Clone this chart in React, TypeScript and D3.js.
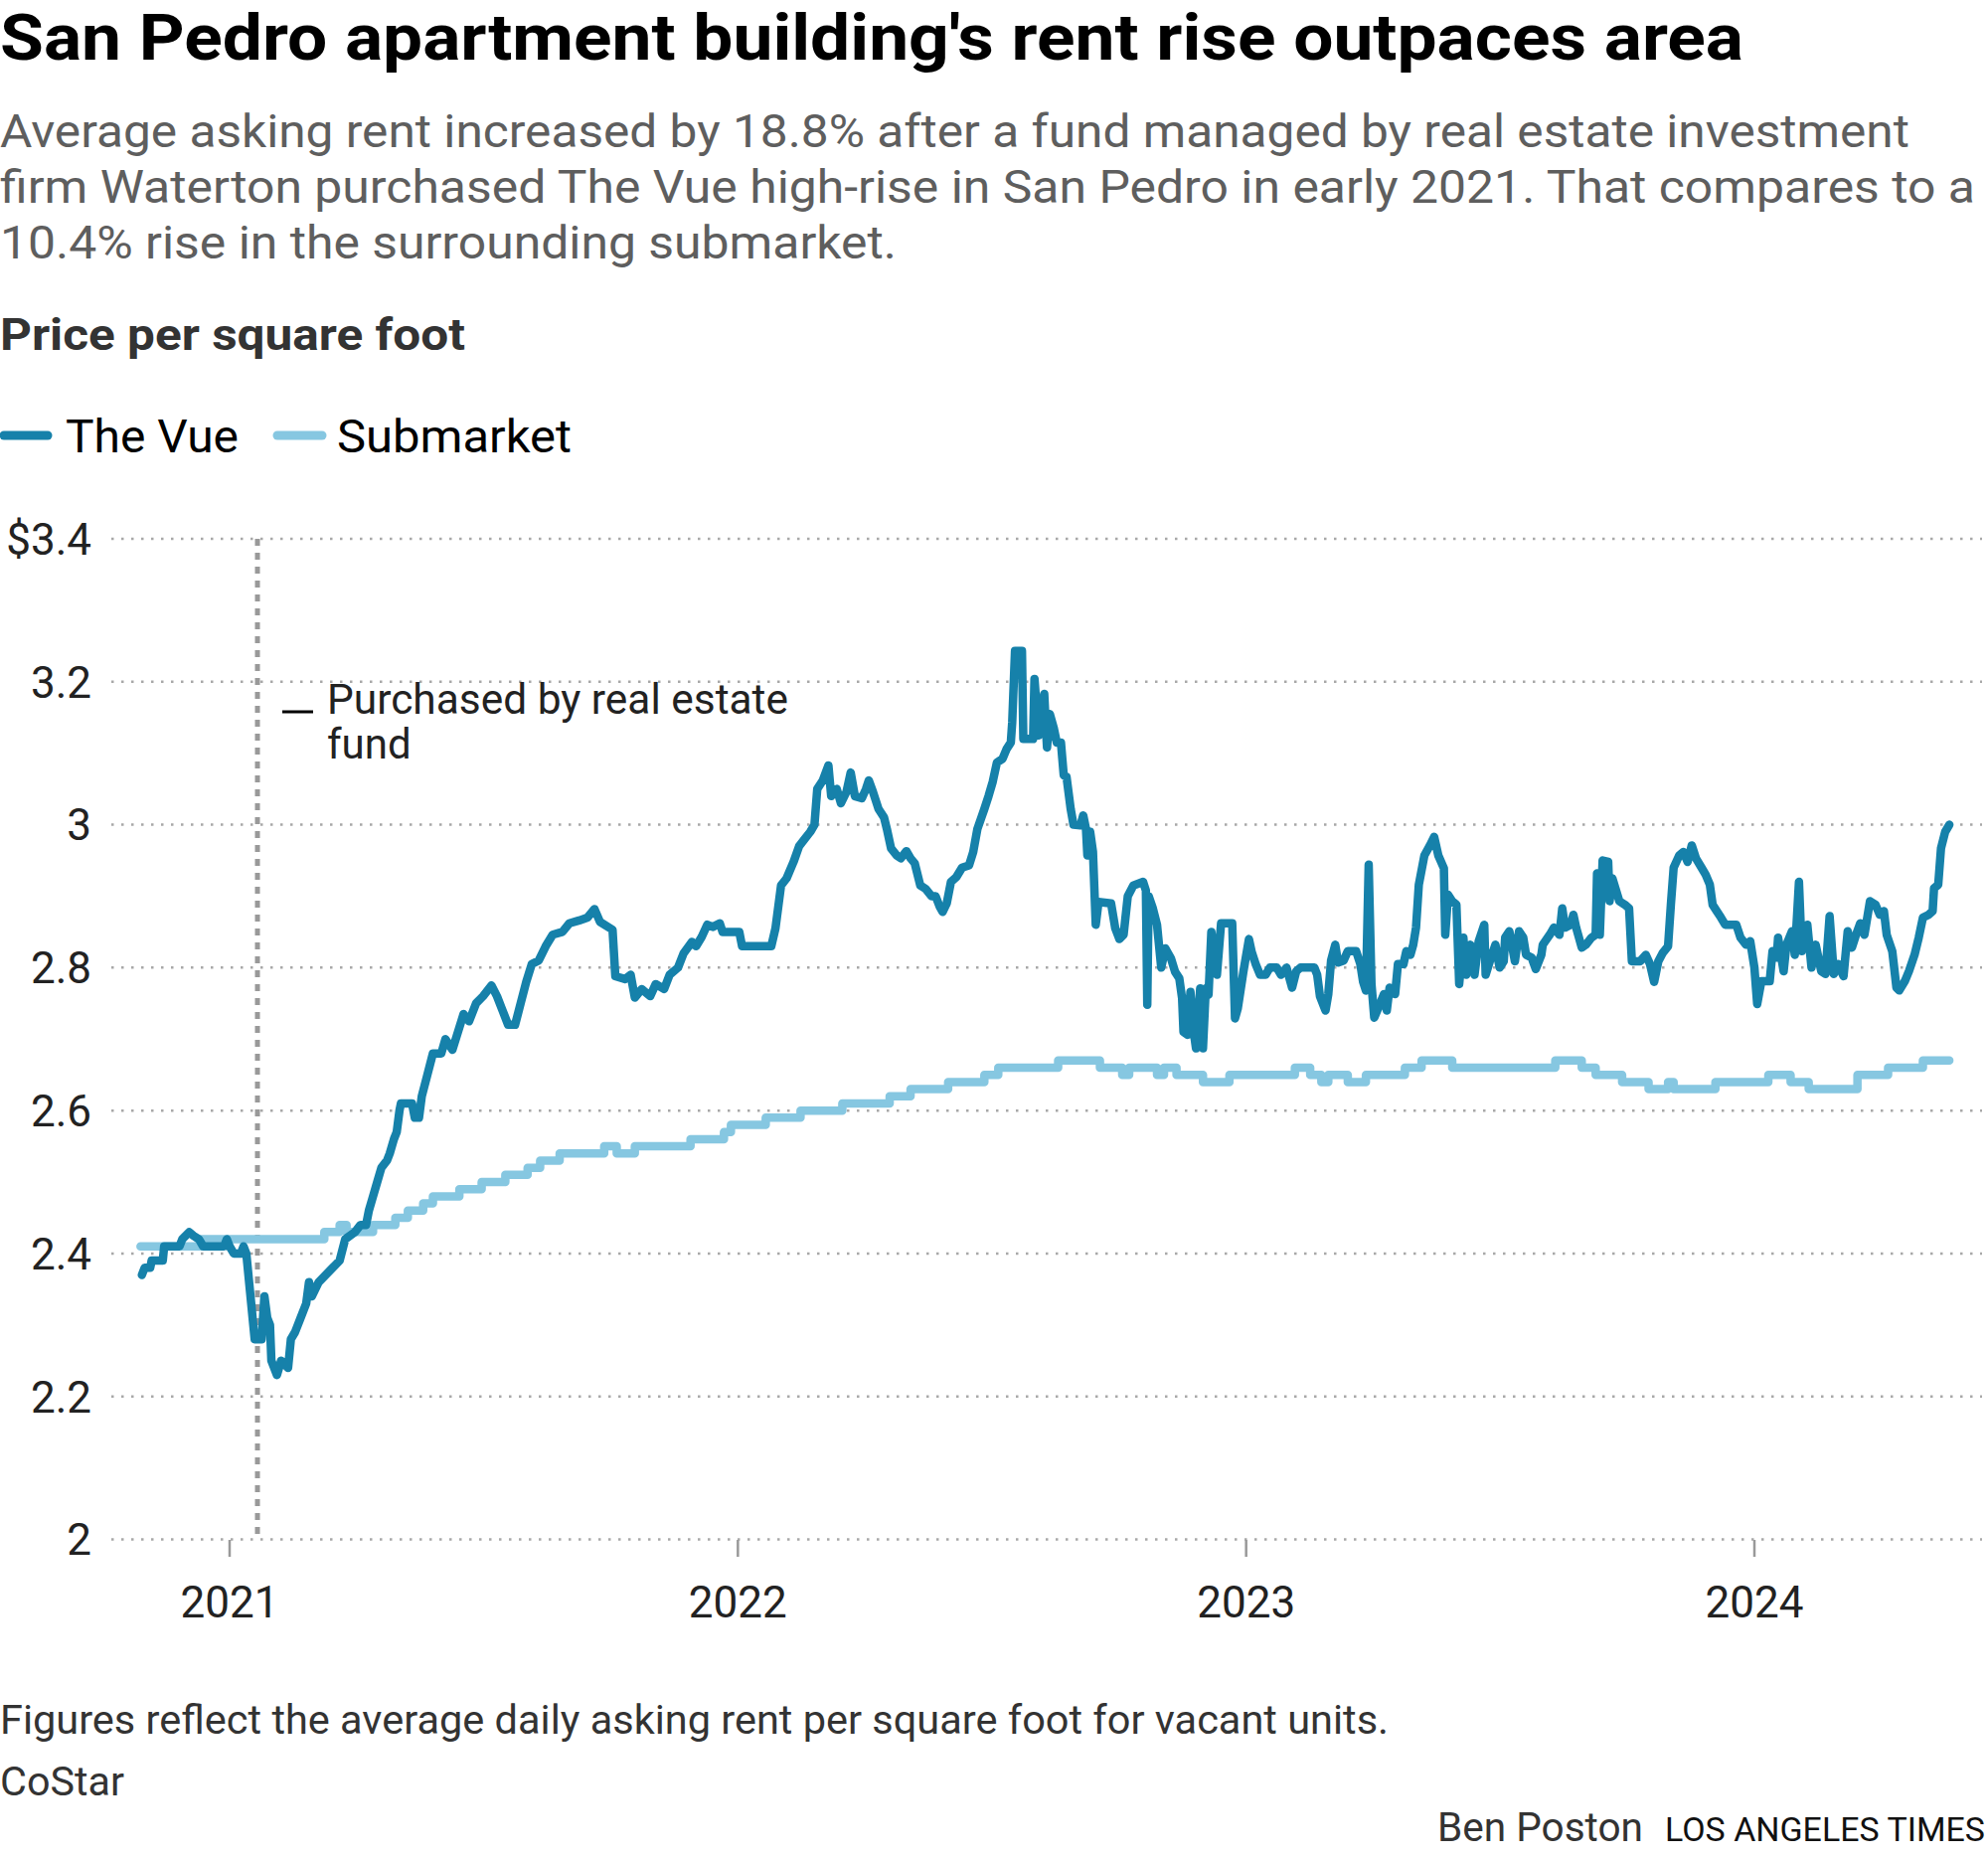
import React from "react";
import * as d3 from "d3";

// ---------- Text ----------
const titleText = "San Pedro apartment building's rent rise outpaces area";
const subtitleLines = [
  "Average asking rent increased by 18.8% after a fund managed by real estate investment",
  "firm Waterton purchased The Vue high-rise in San Pedro in early 2021. That compares to a",
  "10.4% rise in the surrounding submarket.",
];
const yAxisTitle = "Price per square foot";
const seriesNames = ["The Vue", "Submarket"];
const annotationLines = ["Purchased by real estate", "fund"];
const noteText = "Figures reflect the average daily asking rent per square foot for vacant units.";
const sourceText = "CoStar";
const creditText = "Ben Poston";
const brandText = "LOS ANGELES TIMES";

// ---------- Axes ----------
const yTicks = [2, 2.2, 2.4, 2.6, 2.8, 3, 3.2, 3.4];
const yTickLabels = ["2", "2.2", "2.4", "2.6", "2.8", "3", "3.2", "$3.4"];
const xTickYears = [2021, 2022, 2023, 2024];
const purchaseDate = "2021-01-21";

// ---------- The Vue (date, $/sq ft) ----------
const vue2020: [string, number][] = [
  ["2020-10-30", 2.37], ["2020-11-01", 2.38], ["2020-11-05", 2.38], ["2020-11-06", 2.39], ["2020-11-14", 2.39],
  ["2020-11-15", 2.41], ["2020-11-26", 2.41], ["2020-11-28", 2.42], ["2020-12-03", 2.43], ["2020-12-06", 2.425],
  ["2020-12-10", 2.42], ["2020-12-13", 2.41], ["2020-12-28", 2.41], ["2020-12-30", 2.42],
];
const vue2021: [string, number][] = [
  ["2021-01-01", 2.41], ["2021-01-04", 2.40], ["2021-01-09", 2.40], ["2021-01-11", 2.41], ["2021-01-13", 2.40],
  ["2021-01-19", 2.28], ["2021-01-24", 2.28], ["2021-01-26", 2.34], ["2021-01-28", 2.31], ["2021-01-30", 2.30],
  ["2021-01-31", 2.25], ["2021-02-04", 2.23], ["2021-02-07", 2.25], ["2021-02-12", 2.24], ["2021-02-14", 2.28],
  ["2021-02-17", 2.29], ["2021-02-21", 2.31], ["2021-02-25", 2.33], ["2021-02-27", 2.36], ["2021-03-01", 2.34],
  ["2021-03-06", 2.36], ["2021-03-11", 2.37], ["2021-03-16", 2.38], ["2021-03-21", 2.39], ["2021-03-25", 2.42],
  ["2021-04-01", 2.43], ["2021-04-05", 2.44], ["2021-04-09", 2.44], ["2021-04-11", 2.46], ["2021-04-14", 2.48],
  ["2021-04-17", 2.50], ["2021-04-20", 2.52], ["2021-04-24", 2.53], ["2021-04-26", 2.54], ["2021-04-29", 2.56],
  ["2021-05-01", 2.57], ["2021-05-03", 2.60], ["2021-05-04", 2.61], ["2021-05-12", 2.61], ["2021-05-14", 2.59],
  ["2021-05-17", 2.59], ["2021-05-19", 2.62], ["2021-05-23", 2.65], ["2021-05-27", 2.68], ["2021-06-02", 2.68],
  ["2021-06-05", 2.70], ["2021-06-10", 2.685], ["2021-06-14", 2.71], ["2021-06-18", 2.735], ["2021-06-22", 2.725],
  ["2021-06-27", 2.75], ["2021-07-02", 2.76], ["2021-07-08", 2.775], ["2021-07-12", 2.76], ["2021-07-16", 2.74],
  ["2021-07-20", 2.72], ["2021-07-25", 2.72], ["2021-07-29", 2.75], ["2021-08-02", 2.78], ["2021-08-06", 2.805],
  ["2021-08-11", 2.81], ["2021-08-16", 2.83], ["2021-08-21", 2.846], ["2021-08-28", 2.85], ["2021-09-02", 2.862],
  ["2021-09-09", 2.866], ["2021-09-15", 2.87], ["2021-09-20", 2.882], ["2021-09-24", 2.864], ["2021-10-03", 2.853],
  ["2021-10-05", 2.788], ["2021-10-12", 2.784], ["2021-10-16", 2.79], ["2021-10-19", 2.758], ["2021-10-24", 2.77],
  ["2021-10-30", 2.76], ["2021-11-03", 2.777], ["2021-11-09", 2.77], ["2021-11-13", 2.79], ["2021-11-19", 2.80],
  ["2021-11-23", 2.82], ["2021-11-29", 2.836], ["2021-12-02", 2.83], ["2021-12-06", 2.843], ["2021-12-10", 2.86],
  ["2021-12-14", 2.857], ["2021-12-19", 2.862], ["2021-12-21", 2.85],
];
const vue2022: [string, number][] = [
  ["2022-01-02", 2.85], ["2022-01-04", 2.83], ["2022-01-25", 2.83], ["2022-01-28", 2.855], ["2022-02-01", 2.915],
  ["2022-02-05", 2.925], ["2022-02-10", 2.948], ["2022-02-14", 2.97], ["2022-02-18", 2.98], ["2022-02-22", 2.99],
  ["2022-02-25", 3.0], ["2022-02-27", 3.05], ["2022-03-03", 3.062], ["2022-03-07", 3.083], ["2022-03-09", 3.04],
  ["2022-03-13", 3.05], ["2022-03-16", 3.03], ["2022-03-20", 3.046], ["2022-03-23", 3.073], ["2022-03-26", 3.04],
  ["2022-03-31", 3.037], ["2022-04-03", 3.05], ["2022-04-05", 3.062], ["2022-04-08", 3.046], ["2022-04-12", 3.022],
  ["2022-04-16", 3.01], ["2022-04-18", 2.994], ["2022-04-21", 2.967], ["2022-04-25", 2.957], ["2022-04-28", 2.953],
  ["2022-05-02", 2.963], ["2022-05-05", 2.953], ["2022-05-08", 2.946], ["2022-05-12", 2.915], ["2022-05-16", 2.91],
  ["2022-05-20", 2.9], ["2022-05-23", 2.9], ["2022-05-26", 2.885], ["2022-05-28", 2.878], ["2022-05-31", 2.89],
  ["2022-06-03", 2.92], ["2022-06-07", 2.927], ["2022-06-11", 2.94], ["2022-06-16", 2.943], ["2022-06-19", 2.962],
  ["2022-06-22", 2.994], ["2022-06-27", 3.022], ["2022-06-30", 3.04], ["2022-07-03", 3.06], ["2022-07-06", 3.087],
  ["2022-07-10", 3.092], ["2022-07-13", 3.106], ["2022-07-16", 3.115], ["2022-07-17", 3.143], ["2022-07-19", 3.243],
  ["2022-07-24", 3.243], ["2022-07-25", 3.12], ["2022-08-01", 3.12], ["2022-08-02", 3.204], ["2022-08-05", 3.125],
  ["2022-08-09", 3.183], ["2022-08-10", 3.143], ["2022-08-11", 3.108], ["2022-08-13", 3.155], ["2022-08-16", 3.134],
  ["2022-08-18", 3.115], ["2022-08-21", 3.115], ["2022-08-23", 3.069], ["2022-08-25", 3.067], ["2022-08-28", 3.022],
  ["2022-08-30", 3.0], ["2022-09-04", 2.999], ["2022-09-06", 3.013], ["2022-09-08", 2.994], ["2022-09-09", 2.957],
  ["2022-09-11", 2.99], ["2022-09-13", 2.962], ["2022-09-15", 2.86], ["2022-09-17", 2.892], ["2022-09-26", 2.89],
  ["2022-09-29", 2.855], ["2022-10-02", 2.84], ["2022-10-05", 2.846], ["2022-10-08", 2.9], ["2022-10-12", 2.915],
  ["2022-10-19", 2.92], ["2022-10-21", 2.908], ["2022-10-22", 2.748], ["2022-10-23", 2.9], ["2022-10-26", 2.883],
  ["2022-10-29", 2.86], ["2022-11-01", 2.8], ["2022-11-04", 2.827], ["2022-11-08", 2.813], ["2022-11-11", 2.794],
  ["2022-11-14", 2.785], ["2022-11-16", 2.757], ["2022-11-17", 2.71], ["2022-11-20", 2.706], ["2022-11-22", 2.766],
  ["2022-11-24", 2.715], ["2022-11-26", 2.687], ["2022-11-29", 2.771], ["2022-12-01", 2.687], ["2022-12-03", 2.771],
  ["2022-12-05", 2.762], ["2022-12-07", 2.85], ["2022-12-10", 2.808], ["2022-12-11", 2.79], ["2022-12-14", 2.862],
  ["2022-12-22", 2.862], ["2022-12-24", 2.729], ["2022-12-26", 2.743], ["2022-12-30", 2.794],
];
const vue2023: [string, number][] = [
  ["2023-01-03", 2.84], ["2023-01-05", 2.822], ["2023-01-08", 2.804], ["2023-01-11", 2.79], ["2023-01-15", 2.79],
  ["2023-01-18", 2.8], ["2023-01-23", 2.8], ["2023-01-26", 2.79], ["2023-01-30", 2.8], ["2023-02-03", 2.772],
  ["2023-02-06", 2.795], ["2023-02-09", 2.80], ["2023-02-19", 2.80], ["2023-02-21", 2.79], ["2023-02-23", 2.76],
  ["2023-02-27", 2.74], ["2023-03-01", 2.763], ["2023-03-03", 2.81], ["2023-03-06", 2.832], ["2023-03-08", 2.807],
  ["2023-03-12", 2.81], ["2023-03-15", 2.823], ["2023-03-21", 2.823], ["2023-03-24", 2.805], ["2023-03-26", 2.78],
  ["2023-03-28", 2.768], ["2023-03-30", 2.944], ["2023-04-01", 2.777], ["2023-04-03", 2.73], ["2023-04-06", 2.744],
  ["2023-04-10", 2.763], ["2023-04-12", 2.74], ["2023-04-14", 2.772], ["2023-04-18", 2.763], ["2023-04-20", 2.805],
  ["2023-04-24", 2.805], ["2023-04-26", 2.823], ["2023-04-29", 2.818], ["2023-05-01", 2.832], ["2023-05-03", 2.856],
  ["2023-05-05", 2.916], ["2023-05-09", 2.957], ["2023-05-13", 2.971], ["2023-05-16", 2.983], ["2023-05-19", 2.957],
  ["2023-05-23", 2.939], ["2023-05-24", 2.846], ["2023-05-26", 2.902], ["2023-05-29", 2.893], ["2023-06-01", 2.888],
  ["2023-06-03", 2.777], ["2023-06-06", 2.842], ["2023-06-08", 2.79], ["2023-06-11", 2.832], ["2023-06-14", 2.79],
  ["2023-06-17", 2.837], ["2023-06-21", 2.86], ["2023-06-22", 2.79], ["2023-06-25", 2.809], ["2023-06-29", 2.832],
  ["2023-07-02", 2.80], ["2023-07-05", 2.809], ["2023-07-06", 2.842], ["2023-07-09", 2.851], ["2023-07-13", 2.809],
  ["2023-07-16", 2.851], ["2023-07-19", 2.842], ["2023-07-21", 2.818], ["2023-07-25", 2.814], ["2023-07-28", 2.798],
  ["2023-08-01", 2.818], ["2023-08-02", 2.832], ["2023-08-07", 2.846], ["2023-08-10", 2.856], ["2023-08-14", 2.846],
  ["2023-08-16", 2.883], ["2023-08-18", 2.856], ["2023-08-22", 2.86], ["2023-08-24", 2.874], ["2023-08-26", 2.856],
  ["2023-08-30", 2.828], ["2023-09-02", 2.832], ["2023-09-06", 2.842], ["2023-09-09", 2.846], ["2023-09-10", 2.932],
  ["2023-09-12", 2.846], ["2023-09-14", 2.95], ["2023-09-18", 2.948], ["2023-09-19", 2.893], ["2023-09-21", 2.925],
  ["2023-09-26", 2.893], ["2023-09-30", 2.888], ["2023-10-03", 2.883], ["2023-10-05", 2.809], ["2023-10-11", 2.809],
  ["2023-10-15", 2.818], ["2023-10-18", 2.805], ["2023-10-21", 2.78], ["2023-10-24", 2.809], ["2023-10-27", 2.82],
  ["2023-10-31", 2.83], ["2023-11-02", 2.888], ["2023-11-04", 2.94], ["2023-11-08", 2.957], ["2023-11-11", 2.962],
  ["2023-11-14", 2.948], ["2023-11-17", 2.971], ["2023-11-20", 2.953], ["2023-11-24", 2.94], ["2023-11-27", 2.93],
  ["2023-11-30", 2.916], ["2023-12-02", 2.888], ["2023-12-05", 2.879], ["2023-12-08", 2.87], ["2023-12-11", 2.86],
  ["2023-12-19", 2.86], ["2023-12-22", 2.842], ["2023-12-26", 2.832], ["2023-12-29", 2.837],
];
const vue2024: [string, number][] = [
  ["2024-01-01", 2.80], ["2024-01-03", 2.749], ["2024-01-06", 2.781], ["2024-01-12", 2.781], ["2024-01-14", 2.823],
  ["2024-01-17", 2.814], ["2024-01-18", 2.842], ["2024-01-22", 2.795], ["2024-01-24", 2.832], ["2024-01-28", 2.851],
  ["2024-01-30", 2.818], ["2024-02-02", 2.92], ["2024-02-04", 2.823], ["2024-02-08", 2.86], ["2024-02-11", 2.80],
  ["2024-02-14", 2.832], ["2024-02-18", 2.795], ["2024-02-21", 2.791], ["2024-02-24", 2.872], ["2024-02-27", 2.791],
  ["2024-03-01", 2.805], ["2024-03-05", 2.788], ["2024-03-08", 2.851], ["2024-03-11", 2.828], ["2024-03-14", 2.846],
  ["2024-03-17", 2.862], ["2024-03-20", 2.846], ["2024-03-24", 2.893], ["2024-03-28", 2.888], ["2024-03-31", 2.874],
  ["2024-04-03", 2.879], ["2024-04-05", 2.846], ["2024-04-09", 2.823], ["2024-04-12", 2.772], ["2024-04-14", 2.768],
  ["2024-04-18", 2.781], ["2024-04-21", 2.795], ["2024-04-25", 2.818], ["2024-04-28", 2.842], ["2024-05-01", 2.87],
  ["2024-05-05", 2.874], ["2024-05-08", 2.879], ["2024-05-09", 2.911], ["2024-05-12", 2.916], ["2024-05-14", 2.967],
  ["2024-05-17", 2.99], ["2024-05-20", 3.0],
];

// ---------- Submarket (step changes: date, $/sq ft) ----------
const submarket2021: [string, number][] = [
  ["2020-10-29", 2.41], ["2020-12-12", 2.42], ["2021-03-10", 2.43], ["2021-03-21", 2.44], ["2021-03-26", 2.43],
  ["2021-04-14", 2.44], ["2021-04-30", 2.45], ["2021-05-09", 2.46], ["2021-05-20", 2.47], ["2021-05-27", 2.48],
  ["2021-06-15", 2.49], ["2021-07-01", 2.50], ["2021-07-18", 2.51], ["2021-08-03", 2.52], ["2021-08-12", 2.53],
  ["2021-08-26", 2.54], ["2021-09-27", 2.55], ["2021-10-06", 2.54], ["2021-10-19", 2.55], ["2021-11-28", 2.56],
  ["2021-12-22", 2.57], ["2021-12-27", 2.58],
];
const submarket2022: [string, number][] = [
  ["2022-01-21", 2.59], ["2022-02-15", 2.60], ["2022-03-17", 2.61], ["2022-04-20", 2.62], ["2022-05-05", 2.63],
  ["2022-06-01", 2.64], ["2022-06-27", 2.65], ["2022-07-07", 2.66], ["2022-08-19", 2.67], ["2022-09-18", 2.66],
  ["2022-10-04", 2.65], ["2022-10-09", 2.66], ["2022-10-29", 2.65], ["2022-11-03", 2.66], ["2022-11-12", 2.65],
  ["2022-12-01", 2.64], ["2022-12-20", 2.65],
];
const submarket2023: [string, number][] = [
  ["2023-02-05", 2.66], ["2023-02-16", 2.65], ["2023-02-24", 2.64], ["2023-03-01", 2.65], ["2023-03-15", 2.64],
  ["2023-03-28", 2.65], ["2023-04-25", 2.66], ["2023-05-07", 2.67], ["2023-05-29", 2.66], ["2023-08-11", 2.67],
  ["2023-08-30", 2.66], ["2023-09-09", 2.65], ["2023-09-28", 2.64], ["2023-10-17", 2.63], ["2023-10-31", 2.64],
  ["2023-11-04", 2.63], ["2023-12-04", 2.64],
];
const submarket2024: [string, number][] = [
  ["2024-01-11", 2.65], ["2024-01-27", 2.64], ["2024-02-09", 2.63], ["2024-03-15", 2.65], ["2024-04-06", 2.66],
  ["2024-05-01", 2.67], ["2024-05-20", 2.67],
];

const parse = d3.timeParse("%Y-%m-%d");
type Pt = { date: Date; value: number };
const toPts = (rows: [string, number][][]): Pt[] =>
  rows.flat().map(([d, v]) => ({ date: parse(d) as Date, value: v }));

const vueData = toPts([vue2020, vue2021, vue2022, vue2023, vue2024]);
const subData = toPts([submarket2021, submarket2022, submarket2023, submarket2024]);

export default function App() {
  const W = 2000;
  const H = 1870;
  const font = "Roboto, 'Noto Sans', Arial, sans-serif";
  const vueColor = "#1681AA";
  const subColor = "#86C7E1";

  const x = d3
    .scaleTime()
    .domain([new Date(2021, 0, 1), new Date(2024, 0, 1)])
    .range([231, 1765]);
  const y = d3.scaleLinear().domain([2, 3.4]).range([1548.5, 542]);
  const gridX0 = 112;
  const gridX1 = 1994;

  const vueLine = d3
    .line<Pt>()
    .x((d) => x(d.date))
    .y((d) => y(d.value))
    .curve(d3.curveLinear);
  const subLine = d3
    .line<Pt>()
    .x((d) => x(d.date))
    .y((d) => y(d.value))
    .curve(d3.curveStepAfter);

  const purchaseX = x(parse(purchaseDate) as Date);

  return (
    <svg
      width={W}
      height={H}
      viewBox={`0 0 ${W} ${H}`}
      style={{ position: "absolute", left: 0, top: 0, display: "block", background: "#fff" }}
      fontFamily={font}
    >
      <rect x={0} y={0} width={W} height={H} fill="#fff" />
      {/* Title */}
      <text x={0} y={60} fontSize={65} fontWeight={700} fill="#000" textLength={1754} lengthAdjust="spacingAndGlyphs">
        {titleText}
      </text>
      {/* Subtitle */}
      {subtitleLines.map((t, i) => (
        <text
          key={i}
          x={0}
          y={148 + i * 56}
          fontSize={46}
          fill="#5e5e5e"
          textLength={[1921, 1987, 902][i]}
          lengthAdjust="spacingAndGlyphs"
        >
          {t}
        </text>
      ))}
      {/* Y axis title */}
      <text x={0} y={352} fontSize={45} fontWeight={700} fill="#333" textLength={468} lengthAdjust="spacingAndGlyphs">
        {yAxisTitle}
      </text>
      {/* Legend */}
      <line x1={4} x2={48} y1={438} y2={438} stroke={vueColor} strokeWidth={9} strokeLinecap="round" />
      <text x={66} y={455} fontSize={46} fill="#000" textLength={174} lengthAdjust="spacingAndGlyphs">
        {seriesNames[0]}
      </text>
      <line x1={279} x2={324} y1={438} y2={438} stroke={subColor} strokeWidth={9} strokeLinecap="round" />
      <text x={339} y={455} fontSize={46} fill="#000" textLength={236} lengthAdjust="spacingAndGlyphs">
        {seriesNames[1]}
      </text>

      {/* Gridlines and y labels */}
      {yTicks.map((t, i) => (
        <g key={t}>
          <line
            x1={gridX0}
            x2={gridX1}
            y1={y(t)}
            y2={y(t)}
            stroke="#a8a8a8"
            strokeWidth={2.5}
            strokeDasharray="2.5,7.5"
          />
          <text x={92} y={y(t)} dy="0.36em" fontSize={44} fill="#222" textAnchor="end">
            {yTickLabels[i]}
          </text>
        </g>
      ))}

      {/* X ticks */}
      {xTickYears.map((yr) => {
        const px = x(new Date(yr, 0, 1));
        return (
          <g key={yr}>
            <line x1={px} x2={px} y1={1549} y2={1566} stroke="#999" strokeWidth={2.5} />
            <text x={px} y={1627} fontSize={44} fill="#222" textAnchor="middle">
              {yr}
            </text>
          </g>
        );
      })}

      {/* Purchase marker */}
      <line
        x1={purchaseX}
        x2={purchaseX}
        y1={y(3.4)}
        y2={y(2)}
        stroke="#999"
        strokeWidth={5}
        strokeDasharray="7,7"
      />
      <line x1={284} x2={315} y1={716} y2={716} stroke="#000" strokeWidth={3} />
      <text x={329} y={718} fontSize={42} fill="#222" textLength={464} lengthAdjust="spacingAndGlyphs">
        {annotationLines[0]}
      </text>
      <text x={329} y={763} fontSize={42} fill="#222">
        {annotationLines[1]}
      </text>

      {/* Series */}
      <path d={subLine(subData) || ""} fill="none" stroke={subColor} strokeWidth={8.5} strokeLinejoin="round" strokeLinecap="round" />
      <path d={vueLine(vueData) || ""} fill="none" stroke={vueColor} strokeWidth={8.5} strokeLinejoin="round" strokeLinecap="round" />

      {/* Footer */}
      <text x={0} y={1744} fontSize={40} fill="#333" textLength={1397} lengthAdjust="spacingAndGlyphs">
        {noteText}
      </text>
      <text x={0} y={1806} fontSize={40} fill="#333" textLength={125} lengthAdjust="spacingAndGlyphs">
        {sourceText}
      </text>
      <text x={1446} y={1852} fontSize={40} fill="#333" textLength={207} lengthAdjust="spacingAndGlyphs">
        {creditText}
      </text>
      <text x={1675} y={1852} fontSize={34} fill="#111" textLength={322} lengthAdjust="spacingAndGlyphs">
        {brandText}
      </text>
    </svg>
  );
}
